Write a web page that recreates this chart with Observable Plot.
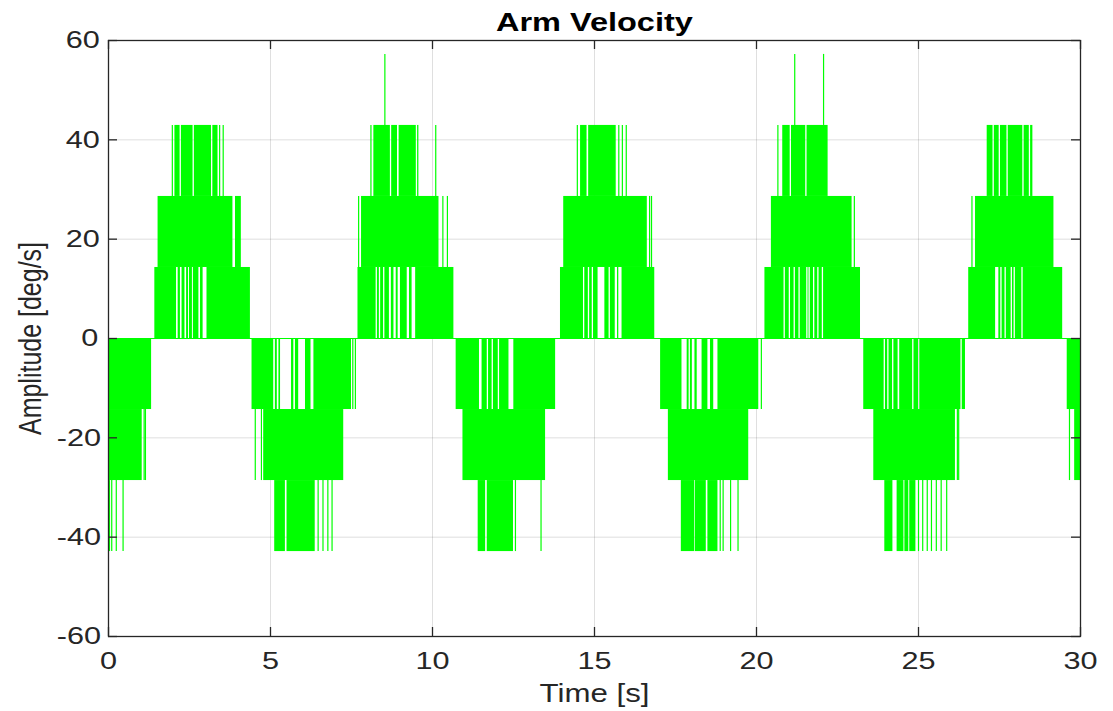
<!DOCTYPE html>
<html><head><meta charset="utf-8">
<script src="https://cdn.jsdelivr.net/npm/d3@7"></script>
<script src="https://cdn.jsdelivr.net/npm/@observablehq/plot@0.6"></script>
<style>body{margin:0;background:#fff} svg{display:block}</style>
</head><body><div id="chart"></div>
<script>
const title = "Arm Velocity";
const xLabel = "Time [s]";
const yLabel = "Amplitude [deg/s]";
const xTicks = [0, 5, 10, 15, 20, 25, 30];
const yTicks = [-60, -40, -20, 0, 20, 40, 60];
const restLevel = [0];

// dense switching regions: [t0, t1, lower level, upper level]
const bands = [
  [0, 1.33, -14.3, 0], [0, 1.04, -28.6, -14.3],
  [1.43, 4.38, 0, 14.3], [1.53, 4.10, 14.3, 28.6], [2.05, 3.18, 28.6, 42.9], [3.22, 3.38, 28.6, 42.9],
  [4.43, 7.50, -14.3, 0], [4.79, 7.26, -28.6, -14.3], [5.13, 5.46, -42.9, -28.6], [5.51, 6.38, -42.9, -28.6],
  [7.70, 10.66, 0, 14.3], [7.81, 10.20, 14.3, 28.6], [8.19, 9.58, 28.6, 42.9],
  [10.73, 13.80, -14.3, 0], [10.94, 13.49, -28.6, -14.3], [11.41, 12.50, -42.9, -28.6],
  [13.95, 16.86, 0, 14.3], [14.05, 16.63, 14.3, 28.6], [14.57, 15.67, 28.6, 42.9],
  [17.04, 20.07, -14.3, 0], [17.28, 19.76, -28.6, -14.3], [17.68, 18.81, -42.9, -28.6],
  [20.26, 23.21, 0, 14.3], [20.46, 22.95, 14.3, 28.6], [20.81, 22.21, 28.6, 42.9],
  [23.31, 26.45, -14.3, 0], [23.62, 26.14, -28.6, -14.3], [23.96, 24.92, -42.9, -28.6],
  [26.55, 29.45, 0, 14.3], [26.76, 29.18, 14.3, 28.6], [27.12, 28.53, 28.6, 42.9],
  [29.59, 30, -14.3, 0], [29.82, 30, -28.6, -14.3]
];

// stretches inside a band where the signal stayed on one level: [t0, t1, lower, upper]
const gaps = [
  [2.10, 2.15, 0, 14.3], [2.22, 2.27, 0, 14.3], [2.36, 2.41, 0, 14.3], [2.47, 2.50, 0, 14.3], [2.59, 2.62, 0, 14.3], [2.79, 2.84, 0, 14.3], [2.92, 3.04, 0, 14.3],
  [3.84, 3.92, 14.3, 28.6], [2.21, 2.25, 28.6, 42.9], [2.61, 2.65, 28.6, 42.9],
  [5.10, 5.15, -14.3, 0], [5.21, 5.26, -14.3, 0], [5.31, 5.65, -14.3, 0], [5.72, 5.77, -14.3, 0], [5.87, 6.08, -14.3, 0], [6.25, 6.34, -14.3, 0],
  [8.26, 8.30, 0, 14.3], [8.36, 8.40, 0, 14.3], [8.49, 8.53, 0, 14.3], [8.67, 8.73, 0, 14.3], [8.81, 8.88, 0, 14.3], [8.94, 9.01, 0, 14.3], [9.22, 9.29, 0, 14.3], [9.37, 9.48, 0, 14.3],
  [8.70, 8.74, 28.6, 42.9], [8.92, 8.97, 28.6, 42.9], [9.50, 9.54, 28.6, 42.9],
  [11.45, 11.53, -14.3, 0], [11.69, 11.73, -14.3, 0], [11.84, 11.88, -14.3, 0], [12.03, 12.07, -14.3, 0], [12.36, 12.51, -14.3, 0],
  [11.64, 11.69, -42.9, -28.6],
  [14.66, 14.70, 0, 14.3], [14.81, 14.85, 0, 14.3], [14.93, 14.97, 0, 14.3], [15.11, 15.32, 0, 14.3], [15.45, 15.49, 0, 14.3], [15.64, 15.71, 0, 14.3], [15.75, 15.85, 0, 14.3],
  [14.77, 14.82, 28.6, 42.9],
  [17.70, 17.86, -14.3, 0], [17.92, 17.96, -14.3, 0], [18.02, 18.10, -14.3, 0], [18.17, 18.32, -14.3, 0], [18.50, 18.58, -14.3, 0], [18.68, 18.81, -14.3, 0],
  [18.09, 18.11, -42.9, -28.6], [18.45, 18.50, -42.9, -28.6],
  [20.85, 20.89, 0, 14.3], [21.01, 21.05, 0, 14.3], [21.16, 21.20, 0, 14.3], [21.31, 21.35, 0, 14.3], [21.55, 21.59, 0, 14.3], [21.62, 21.66, 0, 14.3], [21.76, 21.80, 0, 14.3], [21.89, 21.93, 0, 14.3], [22.03, 22.07, 0, 14.3],
  [21.04, 21.08, 28.6, 42.9], [21.52, 21.56, 28.6, 42.9],
  [23.94, 23.98, -14.3, 0], [24.05, 24.09, -14.3, 0], [24.20, 24.24, -14.3, 0], [24.37, 24.42, -14.3, 0], [24.82, 24.86, -14.3, 0], [25.00, 25.04, -14.3, 0], [26.31, 26.35, -14.3, 0],
  [24.21, 24.34, -42.9, -28.6], [24.55, 24.58, -42.9, -28.6], [24.70, 24.73, -42.9, -28.6],
  [27.38, 27.48, 0, 14.3], [27.54, 27.58, 0, 14.3], [27.67, 27.71, 0, 14.3], [27.86, 27.90, 0, 14.3], [27.95, 27.99, 0, 14.3], [28.19, 28.23, 0, 14.3],
  [27.30, 27.34, 28.6, 42.9], [27.49, 27.53, 28.6, 42.9], [27.73, 27.77, 28.6, 42.9], [28.22, 28.26, 28.6, 42.9], [28.42, 28.46, 28.6, 42.9]
];

// isolated single-sample jumps: [t, lower, upper]
const spikes = [
  [0.03, -42.9, -28.6], [0.10, -42.9, -28.6], [0.24, -42.9, -28.6], [0.45, -42.9, -28.6], [1.10, -28.6, -14.3], [1.14, -28.6, -14.3],
  [1.97, 28.6, 42.9], [3.43, 28.6, 42.9], [3.54, 28.6, 42.9],
  [4.53, -28.6, -14.3], [4.72, -28.6, -14.3], [6.47, -42.9, -28.6], [6.62, -42.9, -28.6], [6.77, -42.9, -28.6], [6.90, -42.9, -28.6], [7.54, -14.3, 0], [7.62, -14.3, 0],
  [7.72, 14.3, 28.6], [8.10, 28.6, 42.9], [8.53, 42.9, 57.2], [10.10, 28.6, 42.9], [10.32, 14.3, 28.6], [10.46, 14.3, 28.6],
  [12.56, -42.9, -28.6], [13.35, -42.9, -28.6],
  [14.47, 28.6, 42.9], [15.75, 28.6, 42.9], [15.86, 28.6, 42.9], [15.98, 28.6, 42.9], [16.70, 14.3, 28.6], [16.76, 14.3, 28.6],
  [18.88, -42.9, -28.6], [18.97, -42.9, -28.6], [19.20, -42.9, -28.6], [19.43, -42.9, -28.6], [20.15, -14.3, 0],
  [20.66, 28.6, 42.9], [21.18, 42.9, 57.2], [22.07, 42.9, 57.2], [23.02, 14.3, 28.6],
  [25.00, -42.9, -28.6], [25.13, -42.9, -28.6], [25.27, -42.9, -28.6], [25.40, -42.9, -28.6], [25.55, -42.9, -28.6], [25.70, -42.9, -28.6], [25.87, -42.9, -28.6],
  [26.20, -28.6, -14.3], [26.24, -28.6, -14.3],
  [26.65, 14.3, 28.6], [29.66, -28.6, -14.3]
];

// split each band by its gaps
const pieces = [];
for (const [t0, t1, lo, hi] of bands) {
  const gs = gaps.filter(g => g[2] === lo && g[3] === hi && g[0] < t1 && g[1] > t0).sort((a, b) => a[0] - b[0]);
  let s = t0;
  for (const g of gs) { if (g[0] > s) pieces.push({t0: s, t1: g[0], lo, hi}); s = Math.max(s, g[1]); }
  if (s < t1) pieces.push({t0: s, t1, lo, hi});
}
const spikeData = spikes.map(([t, lo, hi]) => ({t, lo, hi}));

const green = "#00ff00";
const ink = "#262626";
const W = 1113, H = 711, mL = 108, mR = 33, mT = 40, mB = 75;
const fw = W - mL - mR, fh = H - mT - mB, tick = 9;

const chart = Plot.plot({
  width: W, height: H,
  marginLeft: mL, marginRight: mR, marginTop: mT, marginBottom: mB,
  style: {fontFamily: "'Liberation Sans', Arial, sans-serif", fontSize: "24.5px", color: ink, background: "#fff"},
  x: {domain: [0, 30]},
  y: {domain: [-60, 60]},
  marks: [
    Plot.gridX(xTicks, {stroke: ink, strokeOpacity: 0.15, strokeWidth: 1}),
    Plot.gridY(yTicks, {stroke: ink, strokeOpacity: 0.15, strokeWidth: 1}),
    Plot.ruleY(restLevel, {stroke: green, strokeWidth: 1.2}),
    Plot.rect(pieces, {x1: "t0", x2: "t1", y1: "lo", y2: "hi", fill: green}),
    Plot.ruleX(spikeData, {x: "t", y1: "lo", y2: "hi", stroke: green, strokeWidth: 1.2}),
    Plot.frame({stroke: ink, strokeWidth: 1.3}),
    Plot.ruleX(xTicks, {stroke: ink, strokeWidth: 1.3, insetTop: fh - tick}),
    Plot.ruleX(xTicks, {stroke: ink, strokeWidth: 1.3, insetBottom: fh - tick}),
    Plot.ruleY(yTicks, {stroke: ink, strokeWidth: 1.3, insetRight: fw - tick}),
    Plot.ruleY(yTicks, {stroke: ink, strokeWidth: 1.3, insetLeft: fw - tick}),
    Plot.axisX(xTicks, {tickSize: 0, tickPadding: 15, label: null, tickFormat: d => String(d), fill: ink}),
    Plot.axisY(yTicks, {tickSize: 0, tickPadding: 12, label: null, tickFormat: d => String(d), fill: ink}),
    Plot.text([xLabel], {frameAnchor: "bottom", lineAnchor: "middle", dy: 57, fontSize: 25, fill: ink}),
    Plot.text([yLabel], {frameAnchor: "left", textAnchor: "middle", lineAnchor: "middle", dx: -78, rotate: -90, fontSize: 25, fill: ink}),
    Plot.text([title], {frameAnchor: "top", lineAnchor: "middle", dy: -18, fontSize: 26, fontWeight: "bold", fill: "#000"})
  ]
});
document.getElementById("chart").appendChild(chart);

// the reference figure's lettering is stretched horizontally; widen each text about its anchor
const stretch = 1.25;
const svgBox = chart.getBoundingClientRect();
chart.querySelectorAll("text").forEach(t => {
  const r = t.getBoundingClientRect();
  const anchor = getComputedStyle(t).textAnchor;
  let ax = anchor === "end" && !t.getAttribute("transform") ? r.right
         : anchor === "start" && !t.getAttribute("transform") ? r.left
         : (r.left + r.right) / 2;
  ax -= svgBox.left;
  const ctm = t.parentNode.getCTM();
  const lx = ax - (ctm ? ctm.e : 0);
  const g = document.createElementNS("http://www.w3.org/2000/svg", "g");
  g.setAttribute("transform", `translate(${lx},0) scale(${stretch},1) translate(${-lx},0)`);
  t.parentNode.insertBefore(g, t);
  g.appendChild(t);
});
</script></body></html>
